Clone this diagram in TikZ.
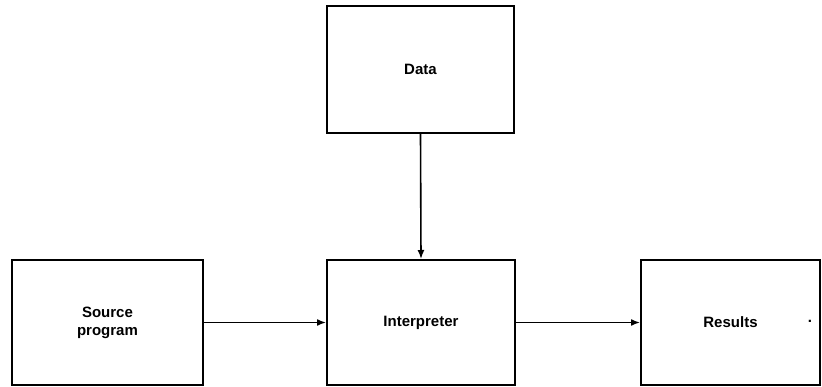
\documentclass[tikz,border=0pt]{standalone}
\usepackage{fontspec}
\setmainfont{Liberation Sans}
\usetikzlibrary{arrows.meta}
\tikzset{
  box/.style={draw=black, line width=2pt, fill=white, inner sep=0pt, align=center,
              font=\fontsize{15}{18}\selectfont\bfseries},
  conn/.style={draw=black, line width=1.6pt, -{Latex[length=9pt,width=7pt]}}
}
\begin{document}
\begin{tikzpicture}[x=1pt,y=-1pt]
\useasboundingbox[fill=white] (0,0) rectangle (822,387);
\node[box, minimum width=187pt, minimum height=127pt] (data) at (420.5,69.5) {Data};
\node[box, minimum width=191pt, minimum height=125pt] (src) at (107.5,322.5) {Source\\program};
\node[box, minimum width=188pt, minimum height=125pt] (interp) at (421,322.5) {Interpreter};
\node[box, minimum width=179pt, minimum height=125pt] (res) at (730.5,322.5) {Results};
\node[inner sep=0pt, font=\fontsize{15}{18}\selectfont\bfseries] (dot) at (810,321) {.};
\draw[conn] (data.south) -- (interp.north);
\draw[conn] (src.east) -- (interp.west);
\draw[conn] (interp.east) -- (res.west);
\end{tikzpicture}
\end{document}
